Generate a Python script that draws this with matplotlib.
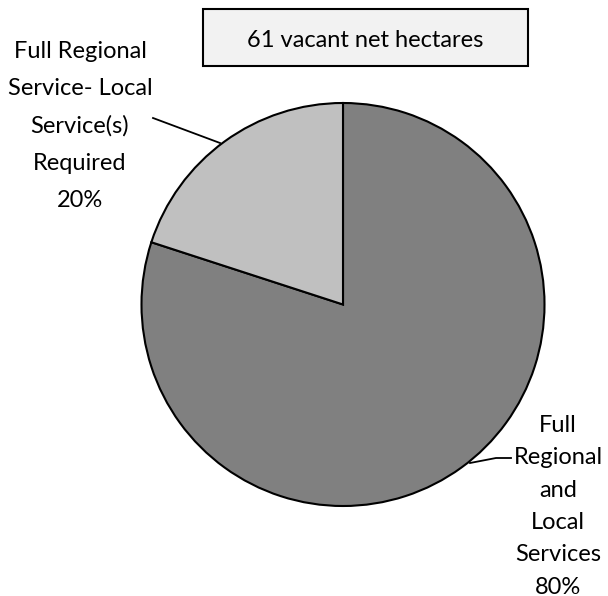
import matplotlib.pyplot as plt

# datos del grafico
etiquetas = ['Full\nRegional\nand\nLocal\nServices', 'Full Regional\nService- Local\nService(s)\nRequired']
valores = [80, 20]
colores = ['#808080', '#c0c0c0']
titulo = '61 vacant net hectares'

W, H = 608, 596
fig = plt.figure(figsize=(W / 100, H / 100), dpi=100)
ax = fig.add_axes([0, 0, 1, 1])

fuente = 'Lato'
tam = 17

ax.pie(valores, colors=colores, startangle=90, counterclock=False,
       center=(343, H - 304.5), radius=201.5,
       wedgeprops=dict(edgecolor='black', linewidth=1.5), frame=True)
ax.set_xlim(0, W)
ax.set_ylim(0, H)
ax.set_aspect('auto')
ax.axis('off')

# etiquetas con porcentaje, linea por linea (x centro, primera linea base, paso)
total = sum(valores)
pos = [(558, 432, 32.3), (80, 58, 37.2)]
for et, v, (x, y0, paso) in zip(etiquetas, valores, pos):
    lineas = et.split('\n') + ['%d%%' % round(100 * v / total)]
    for i, l in enumerate(lineas):
        ax.text(x, H - (y0 + i * paso), l, ha='center', va='baseline',
                fontsize=tam, family=fuente)

# lineas guia
ax.plot([153, 220], [H - 118, H - 143], color='black', lw=1.3)
ax.plot([470, 496, 511], [H - 463, H - 458, H - 458], color='black', lw=1.3)

# caja del titulo
caja = plt.Rectangle((203, H - 66), 325, 57, facecolor='#f2f2f2', edgecolor='black', lw=1.5)
ax.add_patch(caja)
ax.text(365.5, H - 47, titulo, ha='center', va='baseline', fontsize=tam, family=fuente)

fig.savefig('out.png', dpi=100)
